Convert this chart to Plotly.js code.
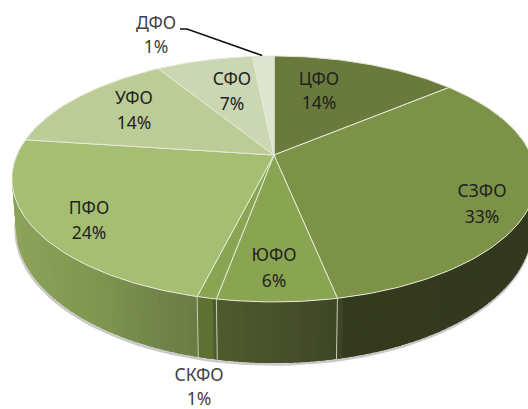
<!DOCTYPE html>
<html><head><meta charset="utf-8">
<script src="https://cdn.plot.ly/plotly-3.0.1.min.js"></script>
<style>html,body{margin:0;padding:0;background:#fff;overflow:hidden}</style>
</head><body><div id="chart" style="width:528px;height:409px"></div>
<script>
// Data
const categories = ['ЦФО','СЗФО','ЮФО','СКФО','ПФО','УФО','СФО','ДФО'];
const percentLabels = [14,33,6,1,24,14,7,1];          // printed labels
const sliceShares = [13.9,32.9,6.1,1.0,23.2,14.1,7.2,1.6]; // measured slice sizes

// Styles
const topColors = ['#6a7a3c','#7c9347','#8aa551','#8aa551','#a6be72','#bccc97','#cbd6b2','#dde4d0'];
const labelColors = ['#1f1f1f','#1f1f1f','#1f1f1f','#404040','#1f1f1f','#1f1f1f','#1f1f1f','#404040'];
const labelX = [319,482,274,199,89,134,232,156];
const nameY = [81,193,257,377,210,100,81,25];
const pctY = [105,219,283,401,235,125,106,49];
const edgeColor = '#e4e9d8';
const wallStops = [[0,'#8da45a'],[27,'#8ba158'],[100,'#7f9650'],[167,'#70824a'],[199,'#6b7c44'],
                   [200,'#5f7034'],[216,'#5f7034'],[217,'#505c2c'],[300,'#454c2a'],[336,'#3d4525'],
                   [337,'#343a1e'],[528,'#33391e']];

// Projection of the disc
const K = 0.195;
const topDisc = {cx:274, cy:155, A:257, B:118.3};
const botDisc = {cx:274, cy:201.7, A:253, B:129.9};
function project(d, deg){
  const t = deg*Math.PI/180, u = Math.sin(t), v = Math.cos(t), w = 1+K*v;
  return [d.cx + d.A*u/w, d.cy - d.B*v/w];
}
function hex(c){return [1,3,5].map(i=>parseInt(c.substr(i,2),16));}
function wallColor(x){
  for(let i=1;i<wallStops.length;i++){
    if(x<=wallStops[i][0]){
      const a=wallStops[i-1], b=wallStops[i], f=(x-a[0])/Math.max(1e-6,b[0]-a[0]);
      const ca=hex(a[1]), cb=hex(b[1]);
      return 'rgb('+ca.map((c,j)=>Math.round(c+(cb[j]-c)*f)).join(',')+')';
    }
  }
  return wallStops[wallStops.length-1][1];
}

const traces = [];
function poly(pts, fill, line){
  traces.push({type:'scatter',mode:'lines',x:pts.map(p=>p[0]),y:pts.map(p=>p[1]),
    fill:'toself',fillcolor:fill,line:line||{width:0},hoverinfo:'skip',showlegend:false});
}
function path(pts, color, width){
  traces.push({type:'scatter',mode:'lines',x:pts.map(p=>p[0]),y:pts.map(p=>p[1]),
    line:{color:color,width:width},hoverinfo:'skip',showlegend:false});
}

// soft shadow under the wall
const shadowPts=[]; for(let a=85;a<=290;a+=2){const p=project(botDisc,a); shadowPts.push([p[0]-0.5,p[1]+1.5]);}
path(shadowPts,'#c9c9c9',2.5);

// side wall: narrow quads, back to front, overlapping so no seams show
const step=1.5, quads=[];
for(let a=60;a<300;a+=step) quads.push(a);
quads.sort((p,q)=>Math.cos((p+step/2)*Math.PI/180)<Math.cos((q+step/2)*Math.PI/180)?1:-1);
quads.forEach(a=>{
  const s=a-0.6, e=a+step+0.6;
  const p1=project(topDisc,s),p2=project(topDisc,e),p3=project(botDisc,e),p4=project(botDisc,s);
  const mid=(project(topDisc,a+step/2)[0]+project(botDisc,a+step/2)[0])/2;
  poly([p1,p2,p3,p4,p1],wallColor(mid));
});

// slice boundaries in angles
const cum=[0]; sliceShares.forEach(s=>cum.push(cum[cum.length-1]+s));
const total=cum[cum.length-1];
const angles=cum.map(c=>c/total*360);

// wall edges
angles.forEach(a=>{ if(a>90&&a<285) path([project(topDisc,a),project(botDisc,a)],'#c8ceb8',1); });

// top faces
sliceShares.forEach((s,i)=>{
  const pts=[[topDisc.cx,topDisc.cy]];
  for(let a=angles[i];a<angles[i+1];a+=1) pts.push(project(topDisc,a));
  pts.push(project(topDisc,angles[i+1]));
  pts.push([topDisc.cx,topDisc.cy]);
  poly(pts,topColors[i],{color:edgeColor,width:1});
});

// leader line for ДФО
const rimDFO=project(topDisc,(angles[7]+angles[8])/2);
path([[180,29],[187,29],[rimDFO[0]-1,rimDFO[1]-0.5]],'#111111',1.6);

// labels
const labelFont={family:'"Noto Sans", sans-serif',size:17.5,color:labelColors};
traces.push({type:'scatter',mode:'text',x:labelX,y:nameY,text:categories,
  textposition:'middle center',textfont:labelFont,
  cliponaxis:false,hoverinfo:'skip',showlegend:false});
traces.push({type:'scatter',mode:'text',x:labelX,y:pctY,text:percentLabels.map(p=>p+'%'),
  textposition:'middle center',textfont:labelFont,
  cliponaxis:false,hoverinfo:'skip',showlegend:false});

Plotly.newPlot('chart',traces,{
  width:528,height:409,margin:{l:0,r:0,t:0,b:0},
  paper_bgcolor:'#fff',plot_bgcolor:'#fff',showlegend:false,
  xaxis:{range:[0,528],visible:false,fixedrange:true},
  yaxis:{range:[409,0],visible:false,fixedrange:true}
},{staticPlot:true,displayModeBar:false});
</script></body></html>
